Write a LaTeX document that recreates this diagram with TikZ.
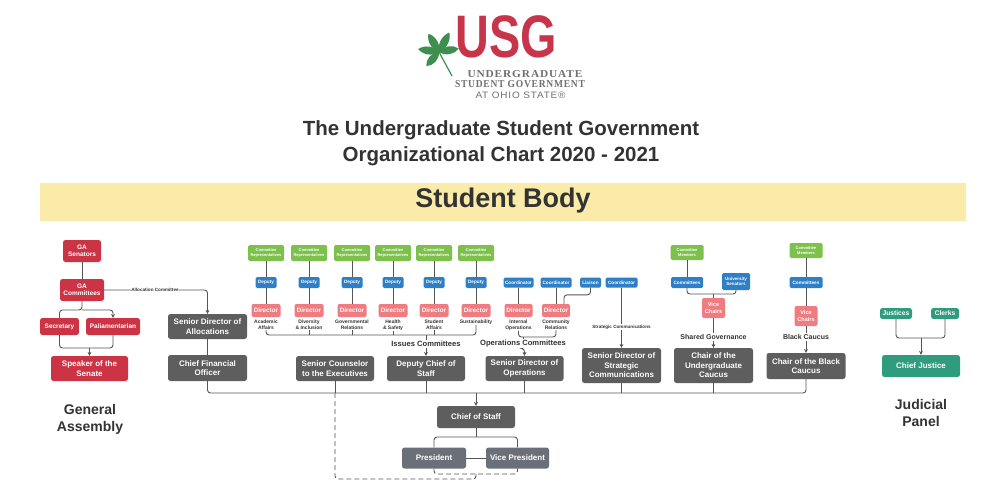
\documentclass[tikz,border=0pt]{standalone}
\usepackage{fontspec}
\usepackage{graphicx}
\setmainfont{Liberation Sans}
\newfontfamily\logoserif[LetterSpace=8]{Liberation Serif}
\newfontfamily\logosans[LetterSpace=8]{Liberation Sans}
\usetikzlibrary{arrows.meta,calc}
\definecolor{usgred}{HTML}{C8354A}
\definecolor{gared}{HTML}{CC3344}
\definecolor{dirpink}{HTML}{EE7C80}
\definecolor{repgreen}{HTML}{7DC04C}
\definecolor{depblue}{HTML}{2E7FC5}
\definecolor{boxgray}{HTML}{5E5E5E}
\definecolor{presgray}{HTML}{6B6F78}
\definecolor{jteal}{HTML}{2F9C7E}
\definecolor{band}{HTML}{FBEBA8}
\definecolor{leafg}{HTML}{3E8E50}
\definecolor{logogray}{HTML}{707070}
\definecolor{ink}{HTML}{333333}
\definecolor{wirec}{HTML}{555555}
\begin{document}
\begin{tikzpicture}[x=1pt,y=-1pt,
  sz/.style 2 args={minimum width=#1, minimum height=#2},
  box/.style={rounded corners=2.5pt, text=white, align=center, inner sep=0pt},
  redbox/.style={box, fill=gared, font=\bfseries\fontsize{6.5}{7.5}\selectfont},
  graybox/.style={box, fill=boxgray, font=\bfseries\fontsize{8}{9.5}\selectfont},
  presbox/.style={box, fill=presgray, font=\bfseries\fontsize{8}{9.5}\selectfont},
  greenbox/.style={box, rounded corners=1.5pt, fill=repgreen, font=\bfseries\fontsize{4}{4.6}\selectfont},
  bluebox/.style={box, rounded corners=1.5pt, fill=depblue, font=\bfseries\fontsize{4.7}{5.3}\selectfont},
  pinkbox/.style={box, rounded corners=2pt, fill=dirpink, font=\bfseries\fontsize{6.3}{7}\selectfont},
  tealbox/.style={box, fill=jteal, font=\bfseries\fontsize{6.7}{7.5}\selectfont},
  dirlab/.style={text=ink, align=center, inner sep=0.5pt, font=\bfseries\fontsize{5}{5.8}\selectfont},
  lbl/.style={text=ink, align=center, inner sep=0.8pt, fill=white, font=\bfseries\fontsize{7}{8}\selectfont},
  tinylbl/.style={text=ink, inner sep=0.8pt, fill=white, font=\bfseries\fontsize{4.6}{5}\selectfont},
  bigtxt/.style={text=ink, align=center, font=\bfseries\fontsize{14}{17}\selectfont},
  wire/.style={draw=wirec, line width=0.9pt, rounded corners=3pt},
  arr/.style={-{Stealth[length=3.8pt,width=3.8pt]}}
]
\useasboundingbox (0,0) rectangle (1000,500);
\fill[white] (0,0) rectangle (1000,500);

% ---------- logo ----------
\foreach \a/\r in {10/20,62/22,120/21,172/21,228/19}
  \fill[leafg, rotate around={\a:(439,52)}] (439,52) .. controls (439+0.3*\r,46.5) and (439+0.75*\r,47) .. (439+\r,52) .. controls (439+0.75*\r,57) and (439+0.3*\r,57.5) .. (439,52);
\draw[leafg, line width=1.2pt] (439,52) -- (452,76);
\node[text=usgred, inner sep=0pt, font=\bfseries\fontsize{60}{60}\selectfont] (usg) at (506,37) {\scalebox{0.78}[1]{USG}};
\node[text=logogray, inner sep=0pt] (l1) at (525,74.5) {\resizebox{115pt}{7pt}{\logoserif\bfseries UNDERGRADUATE}};
\node[text=logogray, inner sep=0pt] (l2) at (520,84.5) {\resizebox{130pt}{7pt}{\logoserif\bfseries STUDENT GOVERNMENT}};
\node[text=logogray, inner sep=0pt] (l3) at (520.5,95) {\resizebox{90pt}{6.5pt}{\logosans AT OHIO STATE®}};

% ---------- title ----------
\node[text=ink, font=\bfseries\fontsize{20.5}{26}\selectfont, align=center] (title) at (501,143) {The Undergraduate Student Government\\Organizational Chart 2020 - 2021};
\fill[band] (40,183) rectangle (966,221);
\node[text=ink, font=\bfseries\fontsize{27}{30}\selectfont] (body) at (503,201) {Student Body};

% ---------- General Assembly ----------
\node[redbox, sz={38}{22}] (gasen) at (82,251) {GA\\Senators};
\node[redbox, sz={44}{22}] (gacom) at (82,290) {GA\\Committees};
\node[redbox, sz={39}{17}] (sec) at (59.5,326.5) {Secretary};
\node[redbox, sz={54}{17}] (pal) at (113,326.5) {Paliamentarian};
\node[redbox, sz={77}{25}, font=\bfseries\fontsize{8}{9.5}\selectfont] (spk) at (89.5,368.5) {Speaker of the\\Senate};
\node[bigtxt] (ga) at (90,419.5) {General\\Assembly};

\draw[wire] (gasen) -- (gacom);
\draw[wire] (sec.north) |- (gacom.south |- 0,310) -- (gacom.south);
\draw[wire,arr] (gacom.south |- 0,310) -| (pal.north);
\draw[wire] (sec.south) |- (pal.south |- 0,348) -- (pal.south);
\draw[wire,arr] (spk.north |- 0,348) -- (spk.north);

% ---------- gray executive boxes ----------
\node[graybox, sz={79}{25}] (sda) at (207.5,326.5) {Senior Director of\\Allocations};
\node[graybox, sz={79}{26}] (cfo) at (207.5,368) {Chief Financial\\Officer};
\node[graybox, sz={78}{25}] (sce) at (335,368.5) {Senior Counselor\\to the Executives};
\node[graybox, sz={78}{25}] (dcs) at (426,368.5) {Deputy Chief of\\Staff};
\node[graybox, sz={78}{25}] (sdo) at (524.5,368.5) {Senior Director of\\Operations};
\node[graybox, sz={79}{35}] (sdsc) at (621.5,365.5) {Senior Director of\\Strategic\\Communications};
\node[graybox, sz={79}{35}] (cug) at (713.5,365.5) {Chair of the\\Undergraduate\\Caucus};
\node[graybox, sz={79}{26}] (cbc) at (806,366) {Chair of the Black\\Caucus};
\node[graybox, sz={78}{22}] (cos) at (476,417) {Chief of Staff};
\node[presbox, sz={64}{21}] (pres) at (434,458) {President};
\node[presbox, sz={63}{21}] (vp) at (517.5,458) {Vice President};

\draw[wire,arr] (gacom.east) -| (sda.north);
\node[tinylbl] (alloc) at (155,290) {Allocation Committee};
\draw[wire] (sda) -- (cfo);

% ---------- Issues committees ----------
\foreach \i/\x/\t in {1/266/{Academic\\Affairs},2/309/{Diversity\\\& Inclusion},3/352/{Governmental\\Relations},4/393/{Health\\\& Safety},5/434/{Student\\Affairs},6/476/{Sustainability}}{
  \node[greenbox, sz={36}{16}] (g\i) at (\x,253) {Committee\\Representatives};
  \node[bluebox, sz={21}{11}] (d\i) at (\x,282.5) {Deputy};
  \node[pinkbox, sz={29}{13}] (r\i) at (\x,310.5) {Director};
  \node[dirlab, anchor=north] (l\i) at (\x,319) {\t};
  \draw[wire] (g\i) -- (d\i);
  \draw[wire] (d\i) -- (r\i);
}
\draw[wire] (l1.south) |- (l6.south |- 0,335) -- (l6.south);
\foreach \i in {2,...,5} \draw[wire] (l\i.south) -- (l\i.south |- 0,335);
\node[lbl, font=\bfseries\fontsize{7.6}{8}\selectfont] (iss) at (426,344) {Issues Committees};
\draw[wire] (iss.north |- 0,335) -- (iss.north);
\draw[wire,arr] (iss.south) -- (dcs.north);

% ---------- Operations committees ----------
\node[bluebox, sz={30}{10}] (c1) at (518.5,282.5) {Coordinator};
\node[bluebox, sz={31}{10}] (c2) at (556,282.5) {Coordinator};
\node[bluebox, sz={21}{10}] (lia) at (590.5,282.5) {Liaison};
\node[bluebox, sz={32}{10}] (c3) at (621.5,282.5) {Coordinator};
\node[pinkbox, sz={28}{13}] (od1) at (518.5,310.5) {Director};
\node[pinkbox, sz={28}{13}] (od2) at (556,310.5) {Director};
\node[dirlab, anchor=north] (ol1) at (518.5,319) {Internal\\Operations};
\node[dirlab, anchor=north] (ol2) at (556,319) {Community\\Relations};
\draw[wire] (c1) -- (od1);
\draw[wire] (c2) -- (od2);
\draw[wire] (lia.south) |- ($(od2.north)+(8,-9)$) -- ($(od2.north)+(8,0)$);
\draw[wire] (ol1.south) |- (ol2.south |- 0,337) -- (ol2.south);
\node[lbl, font=\bfseries\fontsize{7.6}{8}\selectfont] (ops) at (523,344) {Operations Committees};
\draw[wire] (ops.north |- 0,337) -- (ops.north);
\draw[wire,arr] (ops.south) -- (ops.south -| sdo.north) -- (sdo.north);

% ---------- Strategic communications ----------
\draw[wire,arr] (c3) -- (sdsc.north);
\node[tinylbl] (scl) at (621.5,327) {Strategic Communications};

% ---------- Undergraduate caucus ----------
\node[greenbox, sz={33}{15}] (m1) at (687,252.5) {Committee\\Members};
\node[bluebox, sz={32}{11}] (cm1) at (687,282.5) {Committees};
\node[bluebox, sz={28}{17}, font=\bfseries\fontsize{4.5}{5.2}\selectfont] (us) at (736,281.5) {University\\Senators};
\node[pinkbox, sz={23}{20}, font=\bfseries\fontsize{5.5}{6.5}\selectfont] (vc1) at (713.5,308) {Vice\\Chairs};
\node[lbl] (sg) at (713.5,337) {Shared Governance};
\draw[wire] (m1) -- (cm1);
\draw[wire] (cm1.south) |- (us.south |- 0,294) -- (us.south);
\draw[wire] (vc1.north |- 0,294) -- (vc1.north);
\draw[wire] (vc1) -- (sg);
\draw[wire,arr] (sg) -- (cug.north);

% ---------- Black caucus ----------
\node[greenbox, sz={33}{15}] (m2) at (806,250.5) {Committee\\Members};
\node[bluebox, sz={33}{11}] (cm2) at (806,282.5) {Committees};
\node[pinkbox, sz={23}{20}, font=\bfseries\fontsize{5.5}{6.5}\selectfont] (vc2) at (806,316) {Vice\\Chairs};
\node[lbl] (bcl) at (806,337) {Black Caucus};
\draw[wire] (m2) -- (cm2);
\draw[wire] (cm2) -- (vc2);
\draw[wire] (vc2) -- (bcl);
\draw[wire,arr] (bcl) -- (cbc.north);

% ---------- bus to chief of staff ----------
\draw[wire] (cfo.south) |- (cbc.south |- 0,393) -- (cbc.south);
\foreach \n in {sce,dcs,sdo,sdsc,cug} \draw[wire] (\n.south) -- (\n.south |- 0,393);
\draw[wire,arr] (cos.north |- 0,393) -- (cos.north);
\draw[wire] (cos.south) -- (cos.south |- 0,437);
\draw[wire] (pres.north) |- (vp.north |- 0,437) -- (vp.north);
\draw[wire] (pres.east) -- (vp.west);
\draw[wire, dash pattern=on 5pt off 3pt] (pres.south) |- (vp.south |- 0,474) -- (vp.south);
\draw[wire, dash pattern=on 5pt off 3pt] (sce.south |- 0,393) |- (cos.south |- 0,479) -- (cos.south |- 0,474);

% ---------- Judicial panel ----------
\node[tealbox, sz={32}{11}] (jus) at (896,313.5) {Justices};
\node[tealbox, sz={28}{11}] (clk) at (945,313.5) {Clerks};
\node[tealbox, sz={78}{22}, font=\bfseries\fontsize{8}{9.5}\selectfont] (cj) at (921,366) {Chief Justice};
\node[bigtxt] (jp) at (921,412.5) {Judicial\\Panel};
\draw[wire] (jus.south) |- (clk.south |- 0,338) -- (clk.south);
\draw[wire,arr] (cj.north |- 0,338) -- (cj.north);
\end{tikzpicture}
\end{document}
